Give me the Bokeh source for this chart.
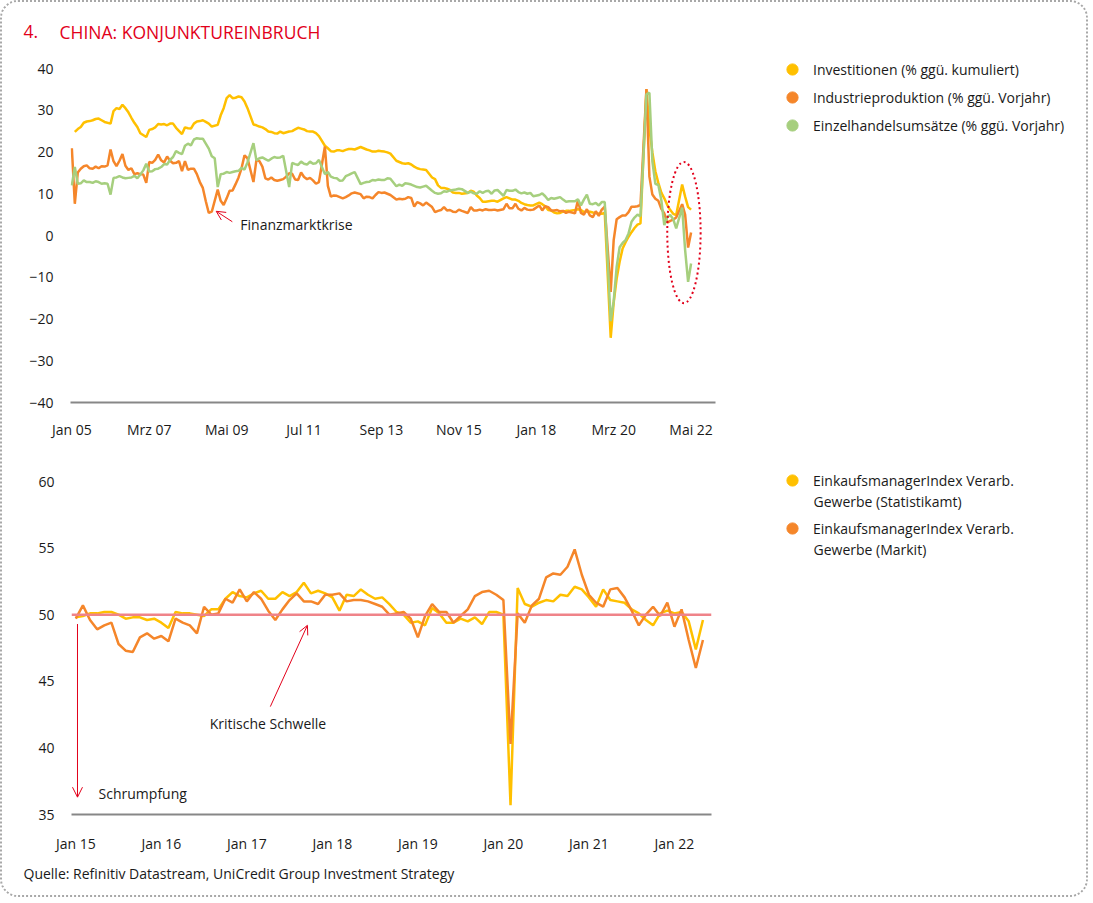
from bokeh.plotting import figure
from bokeh.models import (Legend, LegendItem, Arrow, OpenHead, Span, Label, Title,
                          FixedTicker, ColumnDataSource, Range1d)
from bokeh.layouts import column, row
from bokeh.embed import file_html
from bokeh.resources import INLINE

# ---------------- data: top chart (monthly, Jan 2005 .. May 2022) ----------------
# Investitionen (% ggü. kumuliert) - no January values (YTD data)
investitionen = [
    None, 24.8, 25.5, 26.0, 27.0, 27.3, 27.4, 27.6, 27.9, 28.0, 27.6, 27.2,   # 2005
    None, 26.8, 29.8, 30.5, 30.3, 31.3, 30.5, 29.5, 28.2, 27.0, 26.0, 24.5,   # 2006
    None, 23.6, 25.3, 25.5, 25.9, 26.7, 26.6, 26.7, 26.4, 26.8, 26.8, 25.8,   # 2007
    None, 24.3, 25.9, 25.7, 25.6, 26.8, 27.3, 27.4, 27.6, 27.2, 26.8, 26.1,   # 2008
    None, 26.5, 28.8, 30.5, 32.9, 33.6, 32.9, 33.0, 33.3, 33.1, 32.1, 30.5,   # 2009
    None, 26.6, 26.4, 26.1, 25.9, 25.5, 24.9, 24.8, 24.5, 24.4, 24.9, 24.5,   # 2010
    None, 24.9, 25.0, 25.4, 25.8, 25.6, 25.4, 25.0, 24.9, 24.9, 24.5, 23.8,   # 2011
    None, 21.5, 20.9, 20.2, 20.1, 20.4, 20.4, 20.2, 20.5, 20.7, 20.7, 20.6,   # 2012
    None, 21.2, 20.9, 20.6, 20.4, 20.1, 20.1, 20.3, 20.2, 20.1, 19.9, 19.6,   # 2013
    None, 17.9, 17.6, 17.3, 17.2, 17.3, 17.0, 16.5, 16.1, 15.9, 15.8, 15.7,   # 2014
    None, 13.9, 13.5, 12.0, 11.4, 11.4, 11.2, 10.9, 10.3, 10.2, 10.2, 10.0,   # 2015
    None, 10.2, 10.7, 10.5, 9.6, 9.0, 8.1, 8.1, 8.2, 8.3, 8.3, 8.1,           # 2016
    None, 8.9, 9.2, 8.9, 8.6, 8.6, 8.3, 7.8, 7.5, 7.3, 7.2, 7.2,              # 2017
    None, 7.9, 7.5, 7.0, 6.1, 6.0, 5.5, 5.3, 5.4, 5.7, 5.9, 5.9,              # 2018
    None, 6.1, 6.3, 6.1, 5.6, 5.8, 5.7, 5.5, 5.4, 5.2, 5.2, 5.4,              # 2019
    None, -24.5, -16.1, -10.3, -6.3, -3.1, -1.6, -0.3, 0.8, 1.8, 2.6, 2.9,    # 2020
    None, 35.0, 25.6, 19.9, 15.4, 12.6, 10.3, 8.9, 7.3, 6.1, 5.2, 4.9,        # 2021
    None, 12.2, 9.3, 6.8, 6.2,                                                # 2022
]
# Industrieproduktion (% ggü. Vorjahr)
industrieproduktion = [
    20.9, 7.6, 15.1, 16.0, 16.6, 16.8, 16.1, 16.0, 16.5, 16.1, 16.6, 16.5,    # 2005
    16.8, 20.6, 17.8, 16.6, 17.9, 19.5, 16.7, 15.7, 16.1, 14.7, 14.9, 14.7,   # 2006
    14.6, 12.6, 17.6, 17.4, 18.1, 19.4, 18.0, 17.5, 18.9, 17.9, 17.3, 17.4,   # 2007
    17.8, 15.4, 17.8, 15.7, 16.0, 16.0, 14.7, 12.8, 11.4, 8.2, 5.4, 5.7,      # 2008
    None, 11.0, 8.3, 7.3, 8.9, 10.7, 10.8, 12.3, 13.9, 16.1, 19.2, 18.5,      # 2009
    None, 12.8, 18.1, 17.8, 16.5, 13.7, 13.4, 13.9, 13.3, 13.1, 13.3, 13.5,   # 2010
    14.1, 14.9, 14.8, 13.4, 13.3, 15.1, 14.0, 13.5, 13.8, 13.2, 12.4, 12.8,   # 2011
    None, 21.3, 11.9, 9.3, 9.6, 9.5, 9.2, 8.9, 9.2, 9.6, 10.1, 10.3,          # 2012
    None, 9.9, 8.9, 9.3, 9.2, 8.9, 9.7, 10.4, 10.2, 10.3, 10.0, 9.7,          # 2013
    None, 8.6, 8.8, 8.7, 8.8, 9.2, 9.0, 6.9, 8.0, 7.7, 7.2, 7.9,              # 2014
    None, 6.8, 5.6, 5.9, 6.1, 6.8, 6.0, 6.1, 5.7, 5.6, 6.2, 5.9,              # 2015
    None, 5.4, 6.8, 6.0, 6.0, 6.2, 6.0, 6.3, 6.1, 6.1, 6.2, 6.0,              # 2016
    None, 6.3, 7.6, 6.5, 6.5, 7.6, 6.4, 6.0, 6.6, 6.2, 6.1, 6.2,              # 2017
    None, 7.2, 6.0, 7.0, 6.8, 6.0, 6.0, 6.1, 5.8, 5.9, 5.4, 5.7,              # 2018
    None, 5.3, 8.5, 5.4, 5.0, 6.3, 4.8, 4.4, 5.8, 4.7, 6.2, 6.9,              # 2019
    None, -13.5, -1.1, 3.9, 4.4, 4.8, 4.8, 5.6, 6.9, 6.9, 7.0, 7.3,          # 2020
    None, 35.1, 14.1, 9.8, 8.8, 8.3, 6.4, 5.3, 3.1, 3.5, 3.8, 4.3,            # 2021
    None, 7.5, 5.0, -2.9, 0.7,                                                # 2022
]
# Einzelhandelsumsätze (% ggü. Vorjahr)
einzelhandel = [
    12.0, 16.4, 12.4, 12.5, 13.2, 12.8, 12.8, 12.6, 13.0, 12.8, 12.4, 12.5,   # 2005
    12.4, 9.8, 13.8, 13.9, 14.2, 13.9, 13.7, 13.8, 13.9, 14.3, 13.7, 14.6,    # 2006
    15.6, 17.2, 15.3, 15.4, 15.9, 16.0, 16.4, 17.1, 17.0, 18.1, 18.8, 20.2,   # 2007
    19.8, 19.5, 21.5, 22.0, 21.6, 23.0, 23.3, 23.2, 23.2, 22.0, 20.8, 19.0,   # 2008
    18.5, 11.6, 14.7, 14.8, 15.2, 15.0, 15.2, 15.4, 15.5, 16.2, 15.8, 17.5,   # 2009
    None, 22.1, 18.0, 18.5, 18.7, 18.3, 17.9, 18.4, 18.8, 18.6, 18.7, 19.1,   # 2010
    None, 11.6, 17.4, 17.1, 16.9, 17.7, 17.2, 17.0, 17.7, 17.2, 17.3, 18.1,   # 2011
    None, 14.7, 15.2, 14.1, 13.8, 13.7, 13.1, 13.2, 14.2, 14.5, 14.9, 15.2,   # 2012
    None, 12.3, 12.6, 12.8, 12.9, 13.3, 13.2, 13.4, 13.3, 13.3, 13.7, 13.6,   # 2013
    None, 11.8, 12.2, 11.9, 12.5, 12.4, 12.2, 11.9, 11.6, 11.5, 11.7, 11.9,   # 2014
    None, 10.7, 10.2, 10.0, 10.1, 10.6, 10.5, 10.8, 10.9, 11.0, 11.2, 11.1,   # 2015
    None, 10.2, 10.5, 10.1, 10.0, 10.6, 10.2, 10.6, 10.7, 10.0, 10.8, 10.9,   # 2016
    None, 9.5, 10.9, 10.7, 10.7, 11.0, 10.4, 10.1, 10.3, 10.0, 10.2, 9.4,     # 2017
    None, 9.7, 10.1, 9.4, 8.5, 9.0, 8.8, 9.0, 9.2, 8.6, 8.1, 8.2,             # 2018
    None, 8.2, 8.7, 7.2, 8.6, 9.8, 7.6, 7.5, 7.8, 7.2, 8.0, 8.0,              # 2019
    None, -20.5, -15.8, -7.5, -2.8, -1.8, -1.1, 0.5, 3.3, 4.3, 5.0, 4.6,     # 2020
    None, 33.8, 34.2, 17.7, 12.4, 12.1, 8.5, 2.5, 4.4, 4.9, 3.9, 1.7,         # 2021
    None, 6.7, -3.5, -11.1, -6.7,                                             # 2022
]
top_tick_months = [0, 26, 52, 78, 104, 130, 156, 182, 208]
top_tick_labels = ["Jan 05", "Mrz 07", "Mai 09", "Jul 11", "Sep 13",
                   "Nov 15", "Jan 18", "Mrz 20", "Mai 22"]
top_y_ticks = [-40, -30, -20, -10, 0, 10, 20, 30, 40]
top_labels = ["Investitionen (% ggü. kumuliert)",
              "Industrieproduktion (% ggü. Vorjahr)",
              "Einzelhandelsumsätze (% ggü. Vorjahr)"]

# ---------------- data: bottom chart (monthly, Jan 2015 .. May 2022) ----------------
pmi_statistikamt = [
    49.8, 49.9, 50.1, 50.1, 50.2, 50.2, 50.0, 49.7, 49.8, 49.8, 49.6, 49.7,   # 2015
    49.4, 49.0, 50.2, 50.1, 50.1, 50.0, 49.9, 50.4, 50.4, 51.2, 51.7, 51.4,   # 2016
    51.3, 51.6, 51.8, 51.2, 51.2, 51.7, 51.4, 51.7, 52.4, 51.6, 51.8, 51.6,   # 2017
    51.3, 50.3, 51.5, 51.4, 51.9, 51.5, 51.2, 51.3, 50.8, 50.2, 50.0, 49.4,   # 2018
    49.5, 49.2, 50.5, 50.1, 49.4, 49.4, 49.7, 49.5, 49.8, 49.3, 50.2, 50.2,   # 2019
    50.0, 35.7, 52.0, 50.8, 50.6, 50.9, 51.1, 51.0, 51.5, 51.4, 52.1, 51.9,   # 2020
    51.3, 50.6, 51.9, 51.1, 51.0, 50.9, 50.4, 50.1, 49.6, 49.2, 50.1, 50.3,   # 2021
    50.1, 50.2, 49.5, 47.4, 49.6,                                             # 2022
]
pmi_markit = [
    49.7, 50.7, 49.6, 48.9, 49.2, 49.4, 47.8, 47.3, 47.2, 48.3, 48.6, 48.2,   # 2015
    48.4, 48.0, 49.7, 49.4, 49.2, 48.6, 50.6, 50.0, 50.1, 51.2, 50.9, 51.9,   # 2016
    51.0, 51.7, 51.2, 50.3, 49.6, 50.4, 51.1, 51.6, 51.0, 51.0, 50.8, 51.5,   # 2017
    51.5, 51.6, 51.0, 51.1, 51.1, 51.0, 50.8, 50.6, 50.0, 50.1, 50.2, 49.7,   # 2018
    48.3, 49.9, 50.8, 50.2, 50.2, 49.4, 49.9, 50.4, 51.4, 51.7, 51.8, 51.5,   # 2019
    51.1, 40.3, 50.1, 49.4, 50.7, 51.2, 52.8, 53.1, 53.0, 53.6, 54.9, 53.0,   # 2020
    51.5, 50.9, 50.6, 51.9, 52.0, 51.3, 50.3, 49.2, 50.0, 50.6, 49.9, 50.9,   # 2021
    49.1, 50.4, 48.1, 46.0, 48.1,                                             # 2022
]
bottom_tick_months = [0, 12, 24, 36, 48, 60, 72, 84]
bottom_tick_labels = ["Jan 15", "Jan 16", "Jan 17", "Jan 18", "Jan 19",
                      "Jan 20", "Jan 21", "Jan 22"]
bottom_y_ticks = [35, 40, 45, 50, 55, 60]
bottom_labels = ["EinkaufsmanagerIndex Verarb.\nGewerbe (Statistikamt)",
                 "EinkaufsmanagerIndex Verarb.\nGewerbe (Markit)"]
threshold = 50

# ---------------- styling ----------------
FONT = "Open Sans"
RED = "#E2001A"
C_INV = "#FFC000"
C_IND = "#F5862A"
C_RET = "#A6CF7E"
C_AXIS = "#878787"
TXT = "#1A1A1A"

W = 1084          # total content width
WL_TOP = 723      # width of the top chart figure (rest: legend)
WL_BOT = 764      # width of the bottom chart figure (rest: legend)
H_TITLE = 44
H_TOP = 408
H_BOT = 441
BOX = 28          # legend swatch box


def series_source(values):
    xs = [i for i, v in enumerate(values) if v is not None]
    ys = [v for v in values if v is not None]
    return ColumnDataSource(data=dict(x=xs, y=ys))


def style_axes(p, xticks, xlabels, yticks, x_standoff, y_standoff):
    p.grid.visible = False
    p.outline_line_color = None
    p.border_fill_color = "white"
    xa = p.xaxis[0]
    xa.ticker = FixedTicker(ticks=xticks)
    xa.major_label_overrides = {t: l for t, l in zip(xticks, xlabels)}
    xa.axis_line_color = C_AXIS
    xa.axis_line_width = 2
    xa.major_tick_line_color = None
    xa.minor_tick_line_color = None
    xa.major_label_standoff = x_standoff
    xa.major_label_text_font = FONT
    xa.major_label_text_font_size = "14px"
    xa.major_label_text_color = TXT
    ya = p.yaxis[0]
    ya.ticker = FixedTicker(ticks=yticks)
    ya.axis_line_color = None
    ya.major_tick_line_color = None
    ya.minor_tick_line_color = None
    ya.major_label_standoff = y_standoff
    ya.major_label_text_font = FONT
    ya.major_label_text_font_size = "14px"
    ya.major_label_text_color = TXT


def legend_figure(width, height, labels, colors, left, top, spacing):
    fw, fh = width - left, height - top
    lf = figure(width=width, height=height, output_backend="svg", toolbar_location=None,
                title=None, x_range=Range1d(0, fw), y_range=Range1d(0, fh),
                x_axis_type=None, y_axis_type=None,
                min_border_left=left, min_border_right=0,
                min_border_top=top, min_border_bottom=0)
    lf.grid.visible = False
    lf.outline_line_color = None
    items = []
    for lab, col in zip(labels, colors):
        # marker renderer used only for the legend swatch (point lies outside the view)
        r = lf.scatter(x=[-50], y=[-50], size=13, color=col, marker="circle")
        items.append(LegendItem(label=lab, renderers=[r]))
    lg = Legend(items=items, location="top_left", padding=0, margin=0,
                spacing=spacing, glyph_width=BOX, glyph_height=BOX,
                label_height=BOX, label_standoff=7,
                label_text_font=FONT, label_text_font_size="14px",
                label_text_color=TXT, border_line_alpha=0,
                background_fill_alpha=0)
    lf.add_layout(lg)
    return lf, fh


# ---------------- title strip ----------------
tf = figure(width=WL_TOP, height=H_TITLE, output_backend="svg", toolbar_location=None,
            title=None, x_range=Range1d(0, WL_TOP), y_range=Range1d(0, H_TITLE),
            x_axis_type=None, y_axis_type=None, min_border_left=0, min_border_right=0,
            min_border_top=0, min_border_bottom=0)
tf.grid.visible = False
tf.outline_line_color = None
tf.add_layout(Label(x=21, y=H_TITLE - 29, text="4.", text_baseline="middle",
                    text_font=FONT, text_font_size="17.5px", text_color=RED))
tf.add_layout(Label(x=57, y=H_TITLE - 29, text="CHINA: KONJUNKTUREINBRUCH",
                    text_baseline="middle", text_font=FONT, text_font_size="17.5px",
                    text_color=RED))

# ---------------- top figure ----------------
p1 = figure(width=WL_TOP, height=H_TOP, output_backend="svg", toolbar_location=None,
            title=None, x_range=Range1d(-0.45, 216.2), y_range=Range1d(-40, 40),
            min_border_left=68, min_border_right=WL_TOP - 68 - 645,
            min_border_top=22, min_border_bottom=H_TOP - 22 - 334)
style_axes(p1, top_tick_months, top_tick_labels, top_y_ticks, 11, 11)

p1.line("x", "y", source=series_source(investitionen), color=C_INV, line_width=2.5)
p1.line("x", "y", source=series_source(industrieproduktion), color=C_IND, line_width=2.5)
p1.line("x", "y", source=series_source(einzelhandel), color=C_RET, line_width=2.5)

# annotation: Finanzmarktkrise
p1.add_layout(Arrow(end=OpenHead(size=9, line_color=RED, line_width=1),
                    x_start=53.9, y_start=3.3, x_end=48.5, y_end=5.8,
                    line_color=RED, line_width=1))
p1.add_layout(Label(x=56.6, y=2.6, text="Finanzmarktkrise", text_baseline="middle",
                    text_font=FONT, text_font_size="14px", text_color=TXT))
# dotted ellipse around the latest months
p1.ellipse(x=[205.6], y=[0.7], width=[11.2], height=[33.8], fill_alpha=0,
           line_color=RED, line_width=2, line_dash="2 3")

# legend column next to title + top chart (starts at the page top)
leg_top, _ = legend_figure(W - WL_TOP, H_TITLE + H_TOP, top_labels,
                           [C_INV, C_IND, C_RET], left=53, top=53, spacing=0)

# ---------------- bottom figure ----------------
p2 = figure(width=WL_BOT, height=H_BOT, output_backend="svg", toolbar_location=None,
            title=None, x_range=Range1d(-0.6, 89.2), y_range=Range1d(35, 60),
            min_border_left=69, min_border_right=WL_BOT - 69 - 640,
            min_border_top=27, min_border_bottom=H_BOT - 27 - 333)
style_axes(p2, bottom_tick_months, bottom_tick_labels, bottom_y_ticks, 13, 11)

p2.add_layout(Span(location=threshold, dimension="width", line_color="#EF8389",
                   line_width=2.5))
p2.line("x", "y", source=series_source(pmi_statistikamt), color=C_INV, line_width=2.5)
p2.line("x", "y", source=series_source(pmi_markit), color=C_IND, line_width=2.5)

# annotation: Kritische Schwelle
p2.add_layout(Arrow(end=OpenHead(size=9, line_color=RED, line_width=1),
                    x_start=27.3, y_start=43.1, x_end=32.5, y_end=49.2,
                    line_color=RED, line_width=1))
p2.add_layout(Label(x=18.8, y=41.8, text="Kritische Schwelle", text_baseline="middle",
                    text_font=FONT, text_font_size="14px", text_color=TXT))
# annotation: Schrumpfung
p2.add_layout(Arrow(end=OpenHead(size=10, line_color=RED, line_width=1),
                    x_start=0.24, y_start=49.3, x_end=0.24, y_end=36.3,
                    line_color=RED, line_width=1))
p2.add_layout(Label(x=3.2, y=36.6, text="Schrumpfung", text_baseline="middle",
                    text_font=FONT, text_font_size="14px", text_color=TXT))

src = Title(text="Quelle: Refinitiv Datastream, UniCredit Group Investment Strategy",
            align="left", offset=-48, standoff=12, text_font=FONT,
            text_font_size="14px", text_font_style="normal", text_color=TXT)
p2.add_layout(src, "below")

# bottom legend: first label line next to the swatch, second line below it
first_lines = [lab.split("\n")[0] for lab in bottom_labels]
second_lines = [lab.split("\n")[1] for lab in bottom_labels]
ITEM_PITCH = 48
leg_bot, fh_bot = legend_figure(W - WL_BOT, H_BOT, first_lines, [C_INV, C_IND],
                                left=12, top=12, spacing=ITEM_PITCH - BOX)
for i, txt in enumerate(second_lines):
    leg_bot.add_layout(Label(x=BOX + 7, y=fh_bot - (BOX / 2 + 21 + i * ITEM_PITCH),
                             text=txt, text_baseline="middle", text_font=FONT,
                             text_font_size="14px", text_color=TXT))

# nested single-child columns keep Bokeh from aligning the frames of neighbouring plots
layout = column(row(column(column(tf), column(p1)), leg_top),
                row(column(p2), leg_bot),
                styles={"border": "2px dotted #A8A8A8", "border-radius": "18px",
                        "overflow": "hidden"})

open("out.html", "w").write(file_html(layout, INLINE))
